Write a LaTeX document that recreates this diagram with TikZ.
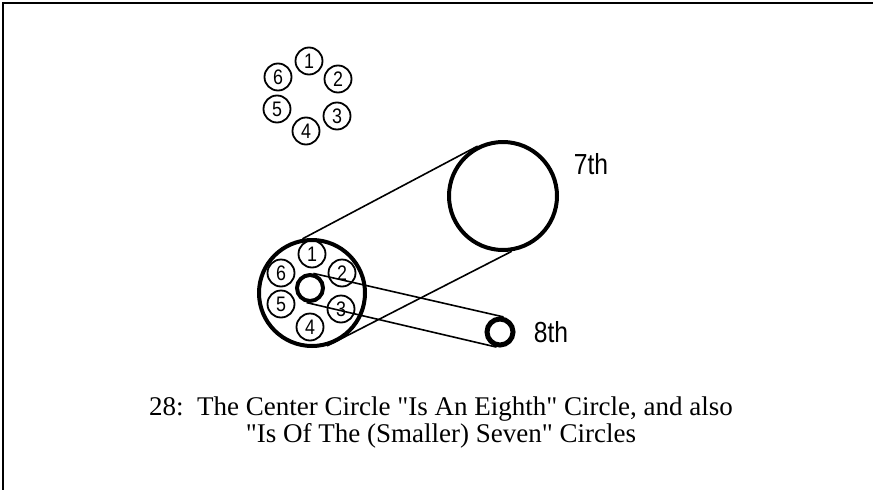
\documentclass[tikz,border=0pt]{standalone}
\usepackage{fontspec}
\setmainfont{Liberation Serif}[Ligatures=TeXOff]
\newfontfamily\narrowfont[FakeStretch=0.85]{Liberation Sans}
\usepackage{tikz}

\begin{document}
\begin{tikzpicture}[
    x=1pt, y=-1pt,
    numnode/.style={draw, circle, line width=1.8pt, minimum size=27pt, inner sep=0pt,
        font=\narrowfont\fontsize{21}{21}\selectfont},
    bignode/.style={draw, circle, line width=4pt, minimum size=106pt, inner sep=0pt},
    hubnode/.style={draw, circle, line width=4pt, minimum size=26pt, inner sep=0pt},
    tagnode/.style={font=\narrowfont\fontsize{29}{29}\selectfont, inner sep=0pt},
    line width=1.6pt
    ]

    \useasboundingbox (0,0) rectangle (873,490);
    \draw[line width=2pt] (3,490) -- (3,3) -- (873,3);

    % the six on their own
    \node[numnode] (t1) at (309,61) {1};
    \node[numnode] (t2) at (338,79) {2};
    \node[numnode] (t3) at (337,116) {3};
    \node[numnode] (t4) at (306,131) {4};
    \node[numnode] (t5) at (277,109) {5};
    \node[numnode] (t6) at (278,77) {6};

    % the six round the centre one
    \node[bignode] (outer) at (312,293) {};
    \node[hubnode] (hub) at (310,288) {};
    \node[numnode] (r1) at (312,254) {1};
    \node[numnode] (r2) at (342,273) {2};
    \node[numnode] (r3) at (341,309) {3};
    \node[numnode] (r4) at (310,327) {4};
    \node[numnode] (r5) at (281,304) {5};
    \node[numnode] (r6) at (281,273) {6};

    \node[bignode, minimum size=108pt] (seventh) at (503,196) {};
    \node[hubnode, line width=5pt] (eighth) at (500,332) {};

    \draw (outer.100) -- (seventh.117);
    \draw (outer.-74) -- (seventh.-81);
    \draw (hub.77) -- (eighth.77);
    \draw (hub.-103) -- (eighth.-103);

    \node[tagnode] (l7) at (591,164) {7th};
    \node[tagnode] (l8) at (551,332) {8th};

    \node[align=center, font=\fontsize{27}{27}\selectfont, inner sep=0pt] (cap) at (441,423)
        {28:\ \ The Center Circle "Is An Eighth" Circle, and also\\
         "Is Of The (Smaller) Seven" Circles};

\end{tikzpicture}
\end{document}
